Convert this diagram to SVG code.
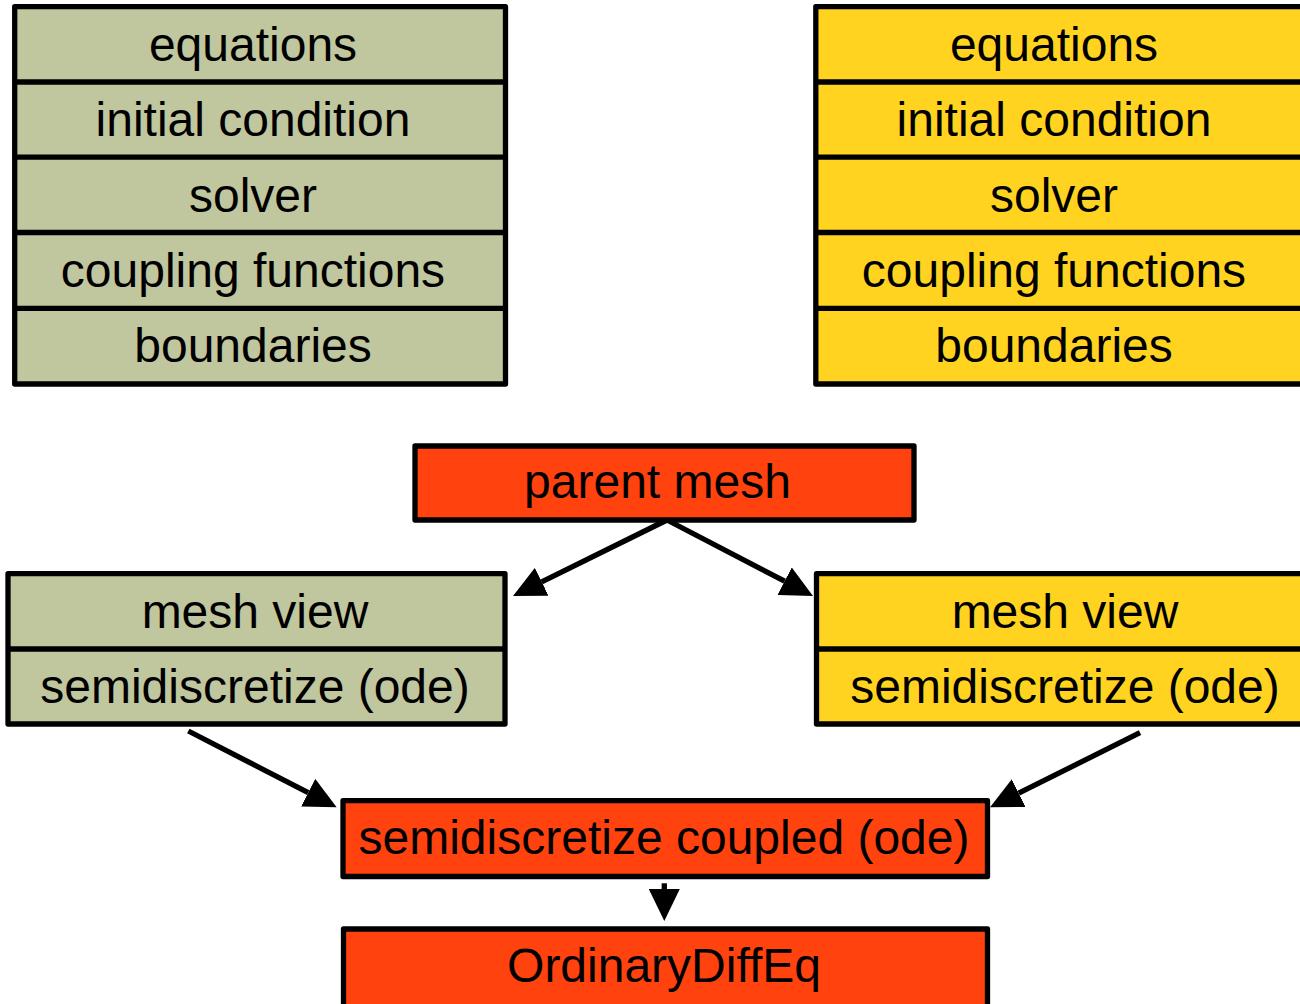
<svg xmlns="http://www.w3.org/2000/svg" width="1300" height="1004" viewBox="0 0 1300 1004">
<style>
.box{stroke:#000;stroke-width:5.3;stroke-linejoin:round}
.div{stroke:#000;stroke-width:5.3}
.olive{fill:#c0c69d}
.yellow{fill:#ffd320}
.red{fill:#ff420e}
text{font-family:"Liberation Sans",Arial,sans-serif;font-size:48px;fill:#000;text-anchor:middle}
.conn line{stroke:#000;stroke-width:5.3}
</style>
<defs>
<marker id="ah" viewBox="0 0 32 31" refX="0" refY="15.5" markerWidth="32" markerHeight="31" markerUnits="userSpaceOnUse" orient="auto">
<path d="M0,0 L32,15.5 L0,31 Z" fill="#000"/>
</marker>
</defs>
<rect width="1300" height="1004" fill="#fff"/>

<g id="left-stack">
<rect class="box olive" x="14.7" y="6.7" width="490.8" height="377.3"/>
<line class="div" x1="14.7" y1="82" x2="505.5" y2="82"/>
<line class="div" x1="14.7" y1="157.2" x2="505.5" y2="157.2"/>
<line class="div" x1="14.7" y1="232.5" x2="505.5" y2="232.5"/>
<line class="div" x1="14.7" y1="308.3" x2="505.5" y2="308.3"/>
<text x="253" y="61">equations</text>
<text x="253" y="136">initial condition</text>
<text x="253" y="212">solver</text>
<text x="253" y="287">coupling functions</text>
<text x="253" y="362">boundaries</text>
</g>

<g id="right-stack">
<rect class="box yellow" x="815.8" y="6.7" width="492" height="377.3"/>
<line class="div" x1="815.8" y1="82" x2="1310" y2="82"/>
<line class="div" x1="815.8" y1="157.2" x2="1310" y2="157.2"/>
<line class="div" x1="815.8" y1="232.5" x2="1310" y2="232.5"/>
<line class="div" x1="815.8" y1="308.3" x2="1310" y2="308.3"/>
<text x="1054" y="61">equations</text>
<text x="1054" y="136">initial condition</text>
<text x="1054" y="212">solver</text>
<text x="1054" y="287">coupling functions</text>
<text x="1054" y="362">boundaries</text>
</g>

<g id="parent-mesh">
<rect class="box red" x="415" y="446" width="499" height="74"/>
<text x="657.5" y="498">parent mesh</text>
</g>

<g id="left-mesh-view">
<rect class="box olive" x="8" y="573.7" width="497" height="150.3"/>
<line class="div" x1="8" y1="649" x2="505" y2="649"/>
<text x="255" y="628">mesh view</text>
<text x="255" y="703">semidiscretize (ode)</text>
</g>

<g id="right-mesh-view">
<rect class="box yellow" x="816.5" y="573.7" width="497" height="150.3"/>
<line class="div" x1="816.5" y1="649" x2="1313.5" y2="649"/>
<text x="1065" y="628">mesh view</text>
<text x="1065" y="703">semidiscretize (ode)</text>
</g>

<g id="coupled">
<rect class="box red" x="343" y="800.7" width="644.5" height="75.8"/>
<text x="664" y="854">semidiscretize coupled (ode)</text>
</g>

<g id="ordinary">
<rect class="box red" x="343.5" y="929" width="644" height="100"/>
<text x="664" y="982">OrdinaryDiffEq</text>
</g>

<g id="connectors" class="conn">
<line x1="667" y1="520" x2="541.7" y2="581.8" marker-end="url(#ah)"/>
<line x1="667" y1="520" x2="784.6" y2="581.2" marker-end="url(#ah)"/>
<line x1="188.3" y1="731" x2="308.2" y2="792.7" marker-end="url(#ah)"/>
<line x1="1140" y1="732.7" x2="1018.7" y2="793.1" marker-end="url(#ah)"/>
<line x1="664.3" y1="883.3" x2="664.3" y2="889" marker-end="url(#ah)"/>
</g>
</svg>
